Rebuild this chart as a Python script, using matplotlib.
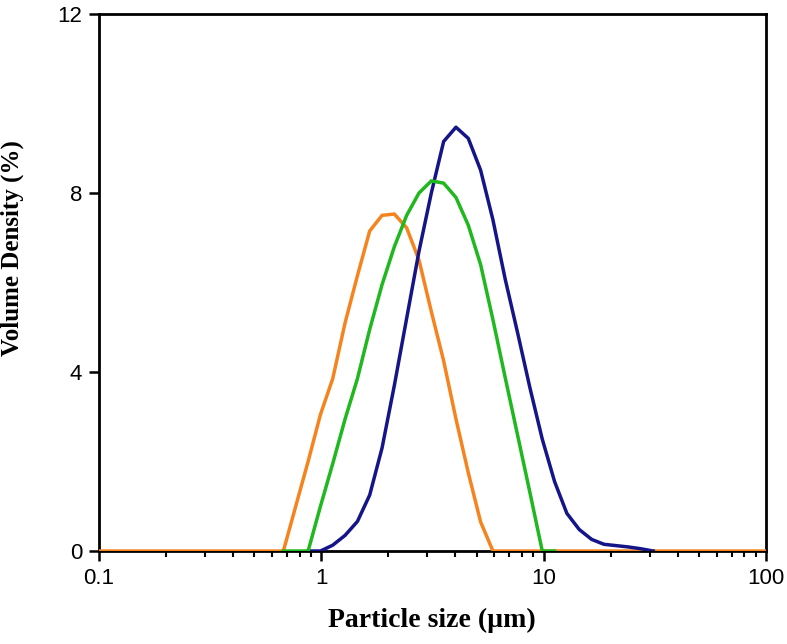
import matplotlib
matplotlib.use("Agg")
import matplotlib.pyplot as plt
from matplotlib.ticker import FixedLocator, FixedFormatter, LogLocator, NullFormatter

# Particle size bins (um) and volume density (%) for each sample
orange_size = [0.1, 0.675, 0.767, 0.872, 0.991, 1.125, 1.279, 1.453, 1.650, 1.875,
               2.130, 2.420, 2.750, 3.124, 3.549, 4.032, 4.581, 5.205, 5.913, 100]
orange_vol = [0, 0, 1.0, 2.0, 3.05, 3.85, 5.1, 6.15, 7.15, 7.5,
              7.53, 7.22, 6.5, 5.35, 4.25, 2.95, 1.75, 0.65, 0, 0]

green_size = [0.675, 0.767, 0.872, 0.991, 1.125, 1.279, 1.453, 1.650, 1.875, 2.130,
              2.420, 2.750, 3.124, 3.549, 4.032, 4.581, 5.205, 5.913, 6.718, 7.632,
              8.671, 9.857, 11.20]
green_vol = [0, 0, 0, 1.0, 1.95, 2.95, 3.85, 4.95, 5.95, 6.8,
             7.5, 8.0, 8.27, 8.22, 7.9, 7.28, 6.4, 5.17, 3.87, 2.59,
             1.31, 0, 0]

blue_size = [0.872, 0.991, 1.125, 1.279, 1.453, 1.650, 1.875, 2.130, 2.420, 2.750,
             3.124, 3.549, 4.032, 4.581, 5.205, 5.913, 6.718, 7.632, 8.671, 9.857,
             11.20, 12.72, 14.46, 16.43, 18.66, 21.20, 24.09, 27.37, 31.10]
blue_vol = [0, 0, 0.13, 0.35, 0.66, 1.25, 2.3, 3.7, 5.2, 6.7,
            8.0, 9.15, 9.47, 9.22, 8.51, 7.4, 6.07, 4.88, 3.65, 2.5,
            1.55, 0.84, 0.48, 0.26, 0.15, 0.12, 0.09, 0.05, 0.0]

x_ticks = [0.1, 1, 10, 100]
x_tick_labels = ["0.1", "1", "10", "100"]
y_ticks = [0, 4, 8, 12]

fig = plt.figure(figsize=(7.87, 6.44), dpi=100)
ax = fig.add_axes([0.1258, 0.1444, 0.8475, 0.8339])

ax.plot(orange_size, orange_vol, color="#f5841f", linewidth=2.5, zorder=3)
ax.plot(blue_size, blue_vol, color="#15158a", linewidth=2.5, zorder=4)
ax.plot(green_size, green_vol, color="#1fb81f", linewidth=2.5, zorder=5)

ax.set_xscale("log")
ax.set_xlim(0.1, 100)
ax.set_ylim(0, 12)

ax.xaxis.set_major_locator(FixedLocator(x_ticks))
ax.xaxis.set_major_formatter(FixedFormatter(x_tick_labels))
ax.xaxis.set_minor_locator(LogLocator(base=10, subs=range(2, 10)))
ax.xaxis.set_minor_formatter(NullFormatter())
ax.set_yticks(y_ticks)

for side in ax.spines.values():
    side.set_linewidth(2.0)

ax.tick_params(which="major", direction="out", length=7, width=1.8,
               labelsize=16, pad=5)
ax.tick_params(which="minor", direction="out", length=4, width=1.5)
for lbl in ax.get_xticklabels() + ax.get_yticklabels():
    lbl.set_family("Liberation Sans")

ax.set_xlabel("Particle size (\u00b5m)", family="Liberation Serif",
              fontweight="bold", fontsize=20)
ax.set_ylabel("Volume Density (%)", family="Liberation Serif",
              fontweight="bold", fontsize=18)
ax.xaxis.set_label_coords(0.499, -0.106)
ax.yaxis.set_label_coords(-0.112, 0.565)

fig.savefig("out.png", dpi=100)
